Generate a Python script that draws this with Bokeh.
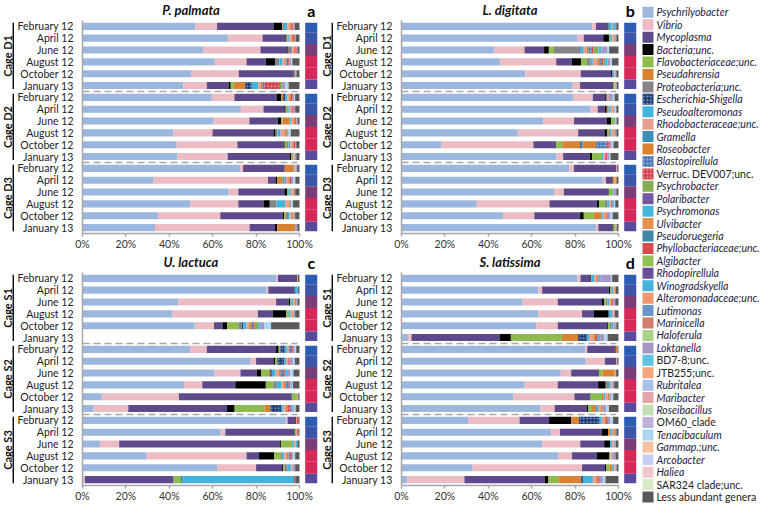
from math import pi
from bokeh.plotting import figure
from bokeh.layouts import row, column
from bokeh.models import ColumnDataSource, Range1d, Label, FixedTicker, PrintfTickFormatter
from bokeh.core.properties import value
from bokeh.embed import file_html
from bokeh.resources import INLINE

FONT = "Lato"

# ---------------- data ----------------
DATES = ["February 12", "April 12", "June 12", "August 12", "October 12", "January 13"]
SEASON_COLORS = ["#2b5db5", "#3b55a8", "#7b3d78", "#d8285a", "#d8285a", "#5a4a9e"]
TITLES = ["P. palmata", "L. digitata", "U. lactuca", "S. latissima"]
LETTERS = ["a", "b", "c", "d"]
CAGES_TOP = ["Cage D1", "Cage D2", "Cage D3"]
CAGES_BOTTOM = ["Cage S1", "Cage S2", "Cage S3"]
X_TICKS = [0, 20, 40, 60, 80, 100]

GENERA = ["Psychrilyobacter", "Vibrio", "Mycoplasma", "Bacteria;unc.", "Flavobacteriaceae;unc.",
          "Pseudahrensia", "Proteobacteria;unc.", "Escherichia-Shigella", "Pseudoalteromonas",
          "Rhodobacteraceae;unc.", "Gramella", "Roseobacter", "Blastopirellula", "Verruc. DEV007;unc.",
          "Psychrobacter", "Polaribacter", "Psychromonas", "Ulvibacter", "Pseudoruegeria",
          "Phyllobacteriaceae;unc.", "Algibacter", "Rhodopirellula", "Winogradskyella",
          "Alteromonadaceae;unc.", "Lutimonas", "Marinicella", "Haloferula", "Loktanella",
          "BD7-8;unc.", "JTB255;unc.", "Rubritalea", "Maribacter", "Roseibacillus", "OM60_clade",
          "Tenacibaculum", "Gammap.;unc.", "Arcobacter", "Haliea", "SAR324 clade;unc.",
          "Less abundant genera"]
GENUS_COLORS = ["#9bb7e0", "#ebbcc4", "#5e4a8b", "#000000", "#8dbb4f",
                "#d98232", "#858585", "#1f3b73", "#41b4dc",
                "#e8a090", "#3c8fb5", "#d9822e", "#4a78b5", "#d4404e",
                "#86ac55", "#7657a3", "#45b6e0", "#e5904c", "#3d86a8",
                "#d64b4b", "#92c154", "#6b4c99", "#43b3da",
                "#f0956d", "#6c93c9", "#d67d6a", "#acd08a", "#a797c6",
                "#5fc0e2", "#f4a47e", "#a9c1e9", "#e0a6a6", "#c3dfb2", "#bfb0d6",
                "#a9d7f0", "#f7c3a3", "#c9cff0", "#f0c7ce", "#d8ebc6",
                "#595959"]
NON_ITALIC = ["Verruc. DEV007;unc.", "BD7-8;unc.", "JTB255;unc.", "OM60_clade",
              "SAR324 clade;unc.", "Less abundant genera"]
HATCHED = {"Escherichia-Shigella": "#9fb6e0", "Blastopirellula": "#b5cdee",
           "Verruc. DEV007;unc.": "#f4aab2"}

STACKED = ["Psychrilyobacter", "Vibrio", "Mycoplasma", "Bacteria;unc.", "Flavobacteriaceae;unc.",
           "Pseudahrensia", "Proteobacteria;unc.", "Escherichia-Shigella", "Pseudoalteromonas",
           "Rhodobacteraceae;unc.", "Roseobacter", "Blastopirellula", "Verruc. DEV007;unc.",
           "Psychrobacter", "Psychromonas", "Loktanella", "Tenacibaculum", "Less abundant genera"]

# Panel a: P. palmata (rows: D1 Feb..Jan, D2 Feb..Jan, D3 Feb..Jan)
PSY_A = [52, 67, 55.5, 61, 50, 46.5, 59.6, 73, 60.4, 41.8, 43.4, 43.7, 72.8, 32.8, 67.3, 49.7, 34.8, 33.4]
VIB_A = [10, 16, 26.5, 14.6, 22, 10.8, 10.4, 10.4, 16.5, 18.1, 28, 23.2, 1.2, 52.7, 4.5, 22.1, 28.7, 43.6]
MYC_A = [26, 10.5, 12, 8.9, 24.8, 10, 19.4, 9.6, 13.1, 28.1, 21.3, 28.5, 19.2, 3.4, 21.2, 11.7, 28.8, 11.7]
BAC_A = [4, 0.5, 0.6, 4.2, 0.5, 1, 2.1, 0.6, 1.5, 1, 0.5, 0.7, 0, 0.8, 1.4, 2.8, 0.6, 1]
FLA_A = [0.3, 0.5, 0, 0, 0, 1.4, 0, 0.8, 0.7, 0, 1, 0.6, 0, 0, 0.6, 0, 0.8, 0]
PSA_A = [0, 0, 0, 0, 0, 5.3, 1, 0, 3.2, 0, 0, 0, 4, 2.5, 0, 0, 0, 8.2]
PRO_A = [0.5, 0.5, 1.5, 2, 0.8, 0, 0, 0.5, 0, 0.8, 0.8, 0.5, 0.5, 0.8, 0, 3.1, 1, 0.3]
ESC_A = [0, 0, 0, 0, 0, 3, 1, 0, 0, 0, 0, 0, 0, 0, 0, 0, 0, 0]
PAL_A = [1.5, 0.5, 0.5, 1.5, 0, 3, 0.8, 0.6, 0.8, 1.5, 0.7, 0, 0, 0.8, 1, 4, 0.8, 0]
RHO_A = [1.2, 1, 0.7, 1.2, 0, 1.2, 1, 0.8, 1, 2, 1, 0.6, 0.5, 1, 0.8, 1.5, 1, 0]
ROS_A = [0.8, 0.5, 1, 0.6, 0, 0.8, 0.8, 0, 0.8, 0.8, 0.6, 0, 0, 0.7, 0.6, 0.6, 0.7, 0]
BLA_A = [0, 0, 0, 0.8, 0, 1, 0, 0, 0, 0, 0, 0, 0, 0, 0, 0, 0, 0]
VER_A = [0.9, 0.8, 0.5, 0.6, 0, 7, 0.8, 1, 0.6, 0, 0.7, 0, 0, 0.6, 0, 0, 0, 0]
PSB_A = [0, 0, 0, 0, 0, 1, 0, 0, 0, 0, 0, 0, 0, 0, 0, 0, 0, 0]
PSM_A = [0, 0, 0, 0, 0, 0, 0, 0, 0, 0, 0, 0, 0, 0, 0, 0, 0, 0]
LOK_A = [0.6, 0.5, 0.5, 0.8, 0.5, 1.5, 0.6, 0.7, 0.6, 0.9, 0.5, 0.7, 0.8, 1, 0.6, 0.8, 0.8, 0.8]
TEN_A = [0, 0, 0, 0.5, 0, 1.5, 0.5, 0, 0, 1, 0, 0, 0, 1, 0, 0.7, 0, 0]
LESS_A = [2.2, 1.7, 0.7, 3.3, 1.4, 5, 2, 2, 0.8, 4, 1.5, 1.5, 1, 1.9, 2, 3, 2, 1]

# Panel b: L. digitata
PSY_B = [87.9, 81.2, 42.6, 45.3, 57.1, 78.8, 79, 87, 65.4, 53.6, 18.3, 71.4, 77.4, 92.8, 70.3, 34.7, 46.8, 89.6]
VIB_B = [1.7, 2.8, 14.1, 26, 25.5, 3.5, 9.2, 3.4, 14.1, 27.8, 42.5, 3.1, 2.1, 1.4, 4.5, 33.5, 14.4, 1.1]
MYC_B = [5.4, 9, 9, 7.2, 14, 14.9, 5.6, 3.4, 15, 12.1, 10.2, 12.3, 19.4, 2.8, 20.4, 21.8, 21.1, 6.6]
BAC_B = [0.4, 2.6, 2.2, 4.2, 0.6, 0.5, 0.4, 0.8, 2.1, 1.2, 0.3, 1.1, 0, 0.3, 0.3, 1, 1.7, 0.4]
FLA_B = [0, 0.5, 2.4, 2.7, 0, 0.5, 0, 0, 1.5, 0.8, 2.8, 4.5, 0, 0, 1.8, 2.8, 4.6, 1]
PSA_B = [0, 0, 0, 0, 0, 0, 0, 0.8, 0, 0, 8.2, 0, 0, 0.8, 0, 0, 3.5, 0]
PRO_B = [0, 0, 11.7, 1.8, 0, 0, 0.8, 0, 0, 0.8, 0, 0, 0, 0, 0, 1, 0, 0]
ESC_B = [0, 0, 0.5, 0, 0, 0, 0, 0, 0, 0, 0.8, 0, 0, 0, 0, 0, 0, 0]
PAL_B = [1.5, 0.8, 1.5, 1, 0.8, 0, 0, 1, 0.5, 0.6, 0.5, 0.6, 0, 0, 0.6, 0.8, 0.8, 0]
RHO_B = [0.5, 0.8, 1.2, 2, 0.5, 0.6, 0.6, 0.8, 0.5, 0.8, 0, 0.8, 0.5, 0.5, 0.5, 0.8, 1, 0.5]
ROS_B = [0, 0.5, 1, 1, 0, 0, 0, 0.5, 0, 0.5, 6, 0.5, 0, 0.6, 0, 0.6, 0.6, 0]
BLA_B = [0, 0, 1.5, 0.8, 0, 0, 0, 0, 0, 0, 5, 0, 0, 0, 0, 0, 0, 0]
VER_B = [0, 0, 0.8, 1, 0, 0, 0, 0, 0, 0, 1.3, 0.5, 0, 0, 0, 0, 0.5, 0]
PSB_B = [0, 0, 2.2, 0.8, 0, 0, 0, 0, 0, 0, 0, 0, 0, 0, 0, 0, 0, 0]
PSM_B = [1, 0, 1.5, 1.2, 0, 0, 0, 0, 0, 0, 0, 0, 0, 0, 0, 0, 0, 0]
LOK_B = [0.6, 0.8, 2.5, 1.2, 0.5, 0.4, 1.8, 0.6, 0, 0.8, 1, 1, 0, 0, 0.6, 1, 1.3, 0]
TEN_B = [0, 0, 1, 0.8, 0, 0, 0.8, 0.7, 0, 0, 0.8, 0.5, 0, 0, 0, 0.5, 1, 0]
LESS_B = [1, 1, 4.3, 3, 1, 0.8, 1.8, 1, 0.9, 1, 2.3, 3.7, 0.6, 0.8, 1, 1.5, 2.7, 0.8]

# Panel c: U. lactuca (S1 January 13 has no bar)
PSY_C = [89.2, 84.8, 44.1, 41.5, 51.7, 0, 49.6, 77.5, 60.8, 46.8, 8.9, 5.2, 93.7, 63.7, 8, 29.6, 62.3, 0]
VIB_C = [0.9, 0.8, 45.1, 39.3, 8.9, 0, 7.7, 2.5, 12, 8.4, 35.5, 15.9, 0.8, 2.1, 8.9, 46, 17.7, 1.1]
MYC_C = [8.5, 11.9, 5.8, 6.9, 3.9, 0, 31.9, 8, 7.5, 15.2, 52.1, 45.5, 3.4, 31.7, 74.2, 5.7, 12, 40.9]
BAC_C = [0.3, 0.3, 0.7, 6.2, 2.1, 0, 1.2, 0.7, 2.1, 14.1, 0, 3.5, 0.4, 0.3, 0.4, 7, 0.5, 0]
FLA_C = [0, 0, 0.5, 1.2, 5.2, 0, 0.8, 1.1, 3.5, 3.5, 2.5, 13.7, 0, 0.6, 5.1, 3.2, 0.5, 3.5]
PSA_C = [0, 0, 0, 0, 0, 0, 0, 0, 0.6, 0, 0, 2.8, 0, 0, 0, 0, 0, 0]
PRO_C = [0, 0, 0, 0, 1.5, 0, 0, 0, 0, 1.5, 0, 0, 0, 0, 0, 0.5, 1.5, 0]
ESC_C = [0, 0, 0, 0, 0.8, 0, 2, 3.2, 0.8, 0, 0, 4.9, 0, 0, 0, 0, 0, 0.5]
PAL_C = [0, 1, 0.8, 0.8, 1.5, 0, 1, 0.8, 1.7, 2, 0, 1, 0, 0, 0.8, 1, 1.5, 51.5]
RHO_C = [0.4, 0, 0.8, 0.8, 1.2, 0, 1, 1, 1.4, 1.2, 0.4, 1.2, 0.5, 0.6, 0.8, 1.2, 0.8, 0]
ROS_C = [0, 0, 0.7, 0.5, 1, 0, 0, 0, 0.8, 0.8, 0, 0.8, 0, 0, 0, 0.8, 0, 0]
BLA_C = [0, 0, 0, 0, 0.8, 0, 1, 0, 1.2, 0.8, 0, 0, 0, 0, 0, 0.6, 0, 0]
VER_C = [0, 0, 0, 0, 0.8, 0, 0.8, 0.7, 0.8, 0.8, 0, 1.5, 0.8, 0.5, 0, 0.8, 0, 0.8]
PSB_C = [0, 0, 0, 0, 1.5, 0, 0, 0, 0, 0, 0, 0, 0, 0, 0, 0, 0, 0]
PSM_C = [0, 0.6, 0, 0, 0.8, 0, 0, 0, 1, 0.6, 0, 0.8, 0, 0, 0.8, 0, 0, 0]
LOK_C = [0, 0, 0.6, 0.8, 2.2, 0, 0.8, 1.5, 1.6, 0.8, 0, 0.8, 0, 0, 0, 0.8, 1.2, 0]
TEN_C = [0, 0, 0, 0, 3, 0, 0.7, 0.8, 1.4, 0.5, 0, 0.6, 0, 0, 0, 0.8, 0, 0]
LESS_C = [0.7, 0.6, 0.9, 2, 13.1, 0, 1.5, 2.2, 2.8, 3, 0.6, 1.8, 0.4, 0.5, 1, 2, 2, 1.7]

# Panel d: S. latissima
PSY_D = [81, 63.1, 55.8, 63.1, 62.1, 3, 84.6, 84.9, 73.4, 56.8, 51.4, 64.1, 30.7, 69, 64.9, 72.3, 32.8, 2.8]
VIB_D = [1.5, 1.7, 16.2, 20.1, 9.9, 1.6, 1, 8.8, 4.8, 15.2, 28.3, 6.5, 23.7, 4, 17.5, 6.3, 50.4, 26.2]
MYC_D = [4.5, 30.7, 20.4, 5.5, 22.8, 40.6, 12.7, 5.3, 12.8, 18.6, 7.1, 14.8, 13.6, 19.3, 11, 11.5, 10.6, 36.9]
BAC_D = [0.4, 0.6, 0.9, 6.8, 0.4, 5.2, 0.4, 0, 0, 3.5, 0.3, 0.7, 10.2, 2.9, 2.8, 5.7, 0.5, 1.8]
FLA_D = [0.3, 0.6, 0.8, 0, 0.8, 23.5, 0, 0, 1.7, 0, 5.3, 1.7, 0, 0, 0, 0.5, 1.7, 4.6]
PSA_D = [0, 0, 0, 0, 0, 7.5, 0.6, 0, 5.6, 0, 0.8, 1.8, 3.6, 1, 0, 0, 1.2, 10.5]
PRO_D = [0, 0, 0.8, 0, 0.8, 0, 0, 0, 0, 1.5, 0, 0, 0, 0, 0, 0, 0, 0]
ESC_D = [0, 0, 0, 0, 0, 4, 0, 0, 0, 0, 0, 0, 9.5, 0, 0, 0, 0, 0.8]
PAL_D = [1.2, 0.8, 0.8, 1.5, 1, 1, 0, 0, 0, 0.8, 0.8, 1, 1, 0.8, 1, 0, 0.8, 4.6]
RHO_D = [0.8, 0.8, 0.8, 0.8, 0.6, 2, 0.3, 0.4, 0.6, 0.8, 1, 1.2, 1.2, 0.8, 0.8, 0.8, 0.6, 1.5]
ROS_D = [0.6, 0.5, 0.6, 0, 0, 1.2, 0, 0, 0, 0, 0.8, 0.8, 0.8, 0.6, 0, 0, 0, 0.8]
BLA_D = [0, 0, 0, 0, 0, 0, 0, 0, 0, 0, 0, 0, 0, 0, 0, 0, 0, 0]
VER_D = [0.5, 0, 0.6, 0, 0, 0.8, 0, 0, 0, 0, 0, 0, 0.8, 0, 0, 0, 0, 0.8]
PSB_D = [0, 0, 0, 0, 0, 0, 0, 0, 0, 0, 0, 0, 0, 0, 0, 0, 0, 0]
PSM_D = [1, 0, 0, 0, 0, 1.1, 0, 0, 0, 0, 0, 0, 0, 0, 0, 0, 0, 0]
LOK_D = [4.7, 0, 0.8, 0.6, 0.6, 2, 0, 0, 0, 0.8, 1, 1.8, 1.2, 0.6, 0.8, 1.5, 0.6, 1.5]
TEN_D = [0.6, 0, 0, 0, 0, 1.5, 0, 0, 0, 0, 0.8, 1.2, 1.2, 0, 0, 0, 0, 1.2]
LESS_D = [2.9, 1.2, 1.5, 1.6, 1, 5, 0.4, 0.6, 1.1, 2, 2.4, 4.4, 2.5, 1, 1.2, 1.4, 0.8, 6]

PANEL_SERIES = [
    [PSY_A, VIB_A, MYC_A, BAC_A, FLA_A, PSA_A, PRO_A, ESC_A, PAL_A, RHO_A, ROS_A, BLA_A, VER_A, PSB_A, PSM_A, LOK_A, TEN_A, LESS_A],
    [PSY_B, VIB_B, MYC_B, BAC_B, FLA_B, PSA_B, PRO_B, ESC_B, PAL_B, RHO_B, ROS_B, BLA_B, VER_B, PSB_B, PSM_B, LOK_B, TEN_B, LESS_B],
    [PSY_C, VIB_C, MYC_C, BAC_C, FLA_C, PSA_C, PRO_C, ESC_C, PAL_C, RHO_C, ROS_C, BLA_C, VER_C, PSB_C, PSM_C, LOK_C, TEN_C, LESS_C],
    [PSY_D, VIB_D, MYC_D, BAC_D, FLA_D, PSA_D, PRO_D, ESC_D, PAL_D, RHO_D, ROS_D, BLA_D, VER_D, PSB_D, PSM_D, LOK_D, TEN_D, LESS_D],
]

# ---------------- layout constants ----------------
LAB_W = 14
AXIS_W = 55
BAR_W = 229
STRIP_GAP = 6
STRIP_W = 13
RIGHT_PAD = 2
TOP_PX = 20          # title band inside the frame
BOT_B = 18
ROW_H = 252
LEG_W = 124

PX = BAR_W / 100.0
FRAME_W = BAR_W + STRIP_GAP + STRIP_W
X_END = FRAME_W / PX
STRIP_L = 100 + STRIP_GAP / PX
FRAME_H = ROW_H - BOT_B
COLOR_OF = dict(zip(GENERA, GENUS_COLORS))
AXIS_GRAY = "#a6a6a6"


def make_panel(idx, cages):
    series = dict(zip(STACKED, PANEL_SERIES[idx]))
    n_per = len(DATES)
    n = len(cages) * n_per
    ys = [n - k - 0.5 for k in range(n)]
    dates = DATES * len(cages)
    t_units = TOP_PX * n / (FRAME_H - TOP_PX)
    yr = Range1d(0, n + t_units)

    p = figure(width=AXIS_W + FRAME_W + RIGHT_PAD, height=ROW_H, x_range=Range1d(0, X_END), y_range=yr,
               output_backend="svg", toolbar_location=None, min_border_left=AXIS_W,
               min_border_right=RIGHT_PAD, min_border_top=0, min_border_bottom=BOT_B,
               outline_line_color=None)
    p.grid.visible = False

    src = ColumnDataSource(dict(y=ys, **series))
    p.hbar_stack(STACKED, y="y", height=0.6, source=src,
                 fill_color=[COLOR_OF[g] for g in STACKED], line_color=None,
                 hatch_pattern=["dot" if g in HATCHED else " " for g in STACKED],
                 hatch_color=[HATCHED.get(g, "white") for g in STACKED],
                 hatch_scale=3.5, hatch_weight=1.0)

    # dashed separators between cages
    seps = [n - g * n_per for g in range(1, len(cages))]
    p.segment(x0=0, x1=99, y0=seps, y1=seps, line_color="#a8a8a8", line_width=1.5, line_dash="7 4")

    # season strip
    tops, bots = [], []
    for k, yv in enumerate(ys):
        tops.append(yv + (0.3 if k % n_per == 0 else 0.5))
        bots.append(yv - (0.3 if k % n_per == n_per - 1 else 0.5))
    p.quad(left=STRIP_L, right=X_END, top=tops, bottom=bots,
           fill_color=SEASON_COLORS * len(cages), line_color=None)

    # axes
    xa = p.xaxis[0]
    xa.ticker = FixedTicker(ticks=X_TICKS)
    xa.formatter = PrintfTickFormatter(format="%d%%")
    xa.bounds = (0, 100)
    xa.axis_line_color = AXIS_GRAY
    xa.axis_line_width = 1.5
    xa.major_tick_line_color = AXIS_GRAY
    xa.major_tick_line_width = 1.5
    xa.major_tick_out = 3
    xa.major_tick_in = 0
    xa.minor_tick_line_color = None
    xa.major_label_standoff = 1
    xa.major_label_text_font = FONT
    xa.major_label_text_font_size = "10.5px"
    xa.major_label_text_color = "#333333"

    ya = p.yaxis[0]
    ya.ticker = FixedTicker(ticks=ys)
    ya.major_label_overrides = {yv: d for yv, d in zip(ys, dates)}
    ya.bounds = (0, n)
    ya.axis_line_color = AXIS_GRAY
    ya.axis_line_width = 1.5
    ya.major_tick_line_color = None
    ya.minor_tick_line_color = None
    ya.major_label_standoff = 3
    ya.major_label_text_font = FONT
    ya.major_label_text_font_size = "10.5px"
    ya.major_label_text_color = "#222222"

    mid_t = n + t_units * 0.5
    p.add_layout(Label(x=50, y=mid_t, text=TITLES[idx], text_align="center", text_baseline="middle",
                       text_font=FONT, text_font_style="bold italic",
                       text_font_size="13px", text_color="#111111"))
    p.add_layout(Label(x=(STRIP_L + X_END) / 2, y=mid_t, text=LETTERS[idx], text_align="center",
                       text_baseline="middle", text_font=FONT,
                       text_font_style="bold", text_font_size="16px", text_color="#000000"))

    # cage labels + brackets (narrow figure sharing the y range)
    lf = figure(width=LAB_W, height=ROW_H, x_range=Range1d(0, LAB_W), y_range=yr,
                x_axis_type=None, y_axis_type=None, output_backend="svg", toolbar_location=None,
                min_border_left=0, min_border_right=0, min_border_top=0,
                min_border_bottom=BOT_B, outline_line_color=None)
    centers = [n - g * n_per - n_per / 2 for g in range(len(cages))]
    lf.text(x=6.5, y=centers, text=cages, angle=pi / 2, text_align="center", text_baseline="middle",
            text_font=value(FONT), text_font_style="bold", text_font_size="11px", text_color="#111111")
    g_top = [n - g * n_per - 0.2 for g in range(len(cages))]
    g_bot = [n - (g + 1) * n_per + 0.2 for g in range(len(cages))]
    lf.segment(x0=12.8, x1=12.8, y0=g_top, y1=g_bot, line_color="#111111", line_width=1.5)
    return lf, p


labA, mainA = make_panel(0, CAGES_TOP)
labB, mainB = make_panel(1, CAGES_TOP)
labC, mainC = make_panel(2, CAGES_BOTTOM)
labD, mainD = make_panel(3, CAGES_BOTTOM)

# ---------------- legend ----------------
NG = len(GENERA)
leg = figure(width=LEG_W, height=2 * ROW_H, x_range=Range1d(0, LEG_W), y_range=Range1d(NG - 0.4, -0.95),
             x_axis_type=None, y_axis_type=None, output_backend="svg", toolbar_location=None,
             min_border=0, outline_line_color=None)
gi = list(range(NG))
leg.scatter(x=9.5, y=gi, marker="square", size=11, fill_color=GENUS_COLORS, line_color=None)
h_idx = [i for i, g in enumerate(GENERA) if g in HATCHED]
leg.scatter(x=9.5, y=h_idx, marker="square", size=11, fill_alpha=0, line_color=None,
            hatch_pattern="dot", hatch_color=[HATCHED[GENERA[i]] for i in h_idx], hatch_scale=3.5)
it_idx = [i for i, g in enumerate(GENERA) if g not in NON_ITALIC]
no_idx = [i for i, g in enumerate(GENERA) if g in NON_ITALIC]
leg.text(x=18, y=it_idx, text=[GENERA[i] for i in it_idx], text_baseline="middle",
         text_font=value(FONT), text_font_style="italic", text_font_size="10.5px", text_color="#222244")
leg.text(x=18, y=no_idx, text=[GENERA[i] for i in no_idx], text_baseline="middle",
         text_font=value(FONT), text_font_style="normal", text_font_size="10.5px", text_color="#222222")

layout = row(column(row(labA, mainA, labB, mainB), row(labC, mainC, labD, mainD)), leg)

with open("out.html", "w") as f:
    f.write(file_html(layout, INLINE))
